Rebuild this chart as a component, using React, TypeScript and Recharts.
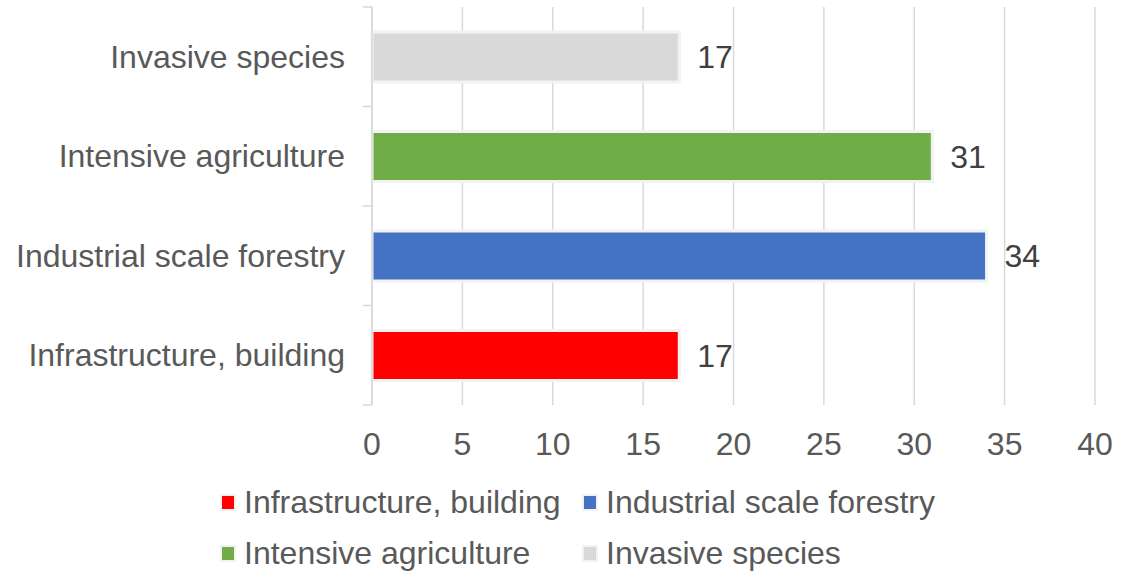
import { Bar, BarChart, CartesianGrid, Cell, LabelList, Legend, XAxis, YAxis } from 'recharts';

const categories = ['Infrastructure, building', 'Industrial scale forestry', 'Intensive agriculture', 'Invasive species'];
const counts = [17, 34, 31, 17];
const colors = ['#ff0000', '#4472c4', '#70ad47', '#d9d9d9'];
const xTicks = [0, 5, 10, 15, 20, 25, 30, 35, 40];

const chartData = categories.map((name, i) => ({ name, value: counts[i], color: colors[i] }));

const FONT = '"Liberation Sans", Arial, sans-serif';
const HALF_BAND = 49.75;

function CategoryTick(props: any) {
  const { x, y, payload, index } = props;
  const lineX1 = x + 18;
  const lineX2 = x + 27;
  return (
    <g>
      <line x1={lineX1} x2={lineX2} y1={y - HALF_BAND} y2={y - HALF_BAND} stroke="#d9d9d9" strokeWidth={1.5} />
      {index === 0 && (
        <line x1={lineX1} x2={lineX2} y1={y + HALF_BAND} y2={y + HALF_BAND} stroke="#d9d9d9" strokeWidth={1.5} />
      )}
      <text x={x} y={y} dy={11} textAnchor="end" fill="#595959" fontSize={32} fontFamily={FONT}>
        {payload.value}
      </text>
    </g>
  );
}

function LegendBox() {
  return (
    <div style={{ position: 'relative', width: 740, height: 102, fontFamily: FONT, fontSize: 32, color: '#595959' }}>
      {categories.map((name, i) => (
        <div
          key={name}
          style={{
            position: 'absolute',
            left: (i % 2) * 362,
            top: Math.floor(i / 2) * 51,
            height: 51,
            display: 'flex',
            alignItems: 'center',
            whiteSpace: 'nowrap',
          }}
        >
          <span
            style={{
              display: 'inline-block',
              width: 12,
              height: 13,
              background: colors[i],
              border: '2px solid #f2f2f2',
              marginRight: 8,
            }}
          />
          {name}
        </div>
      ))}
    </div>
  );
}

export default function App() {
  return (
    <div style={{ position: 'absolute', left: 0, top: 0, width: 1144, height: 573, background: '#fff' }}>
      <BarChart
        width={1144}
        height={573}
        data={chartData}
        layout="vertical"
        margin={{ top: 7, right: 49, left: 0, bottom: 6 }}
        barCategoryGap={0}
      >
        <CartesianGrid horizontal={false} stroke="#d9d9d9" strokeWidth={1.5} />
        <XAxis
          type="number"
          domain={[0, 40]}
          ticks={xTicks}
          axisLine={false}
          tickLine={false}
          tickMargin={21}
          height={60}
          tick={{ fill: '#595959', fontSize: 32, fontFamily: FONT }}
          interval={0}
        />
        <YAxis
          type="category"
          dataKey="name"
          reversed
          width={372}
          axisLine={{ stroke: '#d9d9d9', strokeWidth: 1.5 }}
          tickLine={false}
          tick={<CategoryTick />}
          tickSize={9}
          tickMargin={18}
          interval={0}
        />
        <Legend
          verticalAlign="bottom"
          content={<LegendBox />}
          wrapperStyle={{ position: 'absolute', left: 220, top: 477, bottom: 'auto', width: 740 }}
        />
        <Bar dataKey="value" barSize={50} stroke="#f2f2f2" strokeWidth={3} isAnimationActive={false}>
          {chartData.map((d) => (
            <Cell key={d.name} fill={d.color} />
          ))}
          <LabelList dataKey="value" position="right" offset={18} fill="#404040" fontSize={32} fontFamily={FONT} />
        </Bar>
      </BarChart>
    </div>
  );
}
